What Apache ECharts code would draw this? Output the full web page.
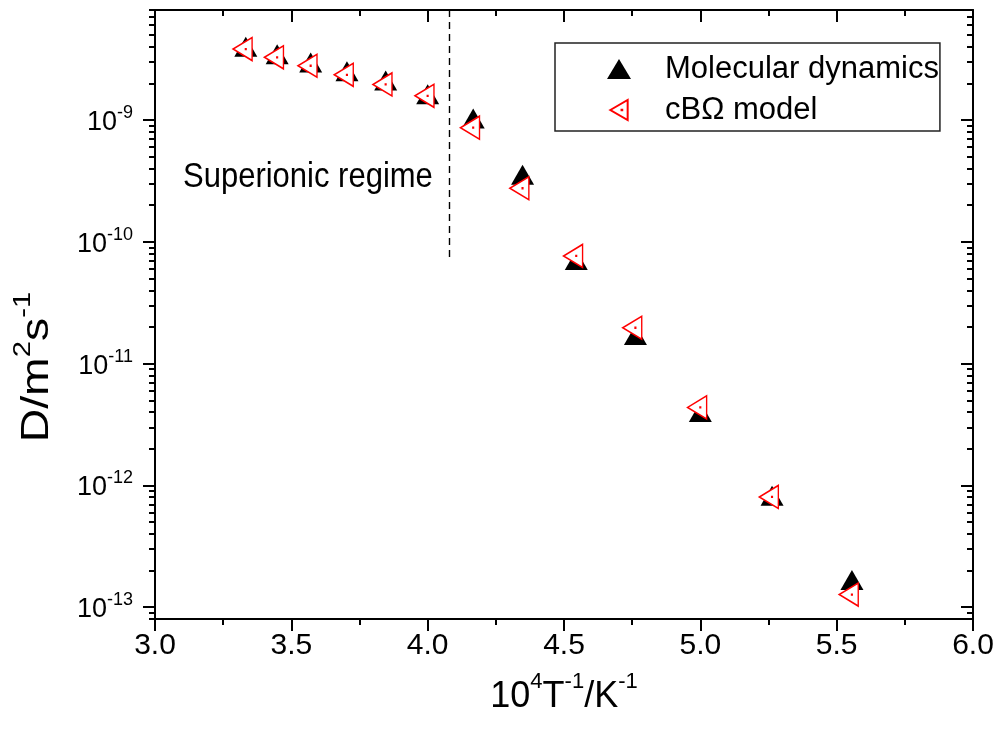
<!DOCTYPE html>
<html>
<head>
<meta charset="utf-8">
<script src="https://cdn.jsdelivr.net/npm/echarts@6/dist/echarts.min.js"></script>
<style>
  html, body { margin: 0; padding: 0; background: #fff; }
  #chart { width: 1002px; height: 737px; }
</style>
</head>
<body>
<div id="chart"></div>
<script>
// 10^4/T for T = 3000 ... 1800 K
var invT = [3.333, 3.448, 3.571, 3.704, 3.846, 4.0, 4.167, 4.348, 4.545, 4.762, 5.0, 5.263, 5.556];
// Molecular dynamics diffusion coefficients (m^2/s)
var mdD = [3.75e-9, 3.25e-9, 2.78e-9, 2.36e-9, 1.98e-9, 1.53e-9, 9.66e-10, 3.33e-10, 6.65e-11, 1.61e-11, 3.77e-12, 7.74e-13, 1.57e-13];
// cBOmega model
var modelD = [3.82e-9, 3.27e-9, 2.79e-9, 2.35e-9, 1.96e-9, 1.58e-9, 8.65e-10, 2.75e-10, 7.66e-11, 1.97e-11, 4.37e-12, 8.04e-13, 1.27e-13];
// axis ranges / ticks
var xMin = 3.0, xMax = 6.0, xStep = 0.5;
var yMin = 8e-14, yMax = 8e-9;
var yMajor = [1e-13, 1e-12, 1e-11, 1e-10, 1e-9];
// superionic boundary (dashed line)
var boundaryX = 4.08;
var boundaryY = [7e-11, 8e-9];

var FONT = '"Liberation Sans", Arial, sans-serif';

// minor ticks 2..9 x 10^n inside the range
var yMinor = [];
for (var n = -14; n <= -9; n++) {
  for (var k = 2; k <= 9; k++) {
    var v = k * Math.pow(10, n);
    if (v >= yMin * 0.999 && v <= yMax * 1.001) yMinor.push(v);
  }
}

var pairs = function (xs, ys) {
  return xs.map(function (x, i) { return [x, ys[i]]; });
};

var chart = echarts.init(document.getElementById('chart'));

var yBase = {
  type: 'log', logBase: 10, min: yMin, max: yMax,
  splitLine: { show: false }, minorTick: { show: false }
};
var lineBlack = { show: true, lineStyle: { color: '#000', width: 2 } };

var option = {
  animation: false,
  backgroundColor: '#fff',
  grid: { left: 155, right: 29, top: 10, bottom: 118, containLabel: false },
  xAxis: [
    {
      type: 'value', min: xMin, max: xMax, interval: xStep, position: 'bottom',
      axisLine: lineBlack,
      axisTick: { show: true, inside: false, length: 12, lineStyle: { color: '#000', width: 2 } },
      minorTick: { show: true, splitNumber: 2, length: 6, lineStyle: { color: '#000', width: 2 } },
      splitLine: { show: false },
      axisLabel: {
        margin: 12, color: '#000', fontFamily: FONT, fontSize: 30,
        formatter: function (v) { return v.toFixed(1); }
      },
      name: '{b|10}{s|4}{b|T}{s|-1}{b|/K}{s|-1}',
      nameLocation: 'middle', nameGap: 52,
      nameTextStyle: {
        fontFamily: FONT, fontSize: 36, color: '#000',
        rich: {
          b: { fontFamily: FONT, fontSize: 36, lineHeight: 44, color: '#000', verticalAlign: 'bottom' },
          s: { fontFamily: FONT, fontSize: 22, lineHeight: 22, color: '#000', verticalAlign: 'top' }
        }
      }
    },
    {
      type: 'value', min: xMin, max: xMax, interval: xStep, position: 'top',
      axisLine: lineBlack,
      axisTick: { show: true, inside: true, length: 12, lineStyle: { color: '#000', width: 2 } },
      minorTick: { show: true, splitNumber: 2, length: 6, lineStyle: { color: '#000', width: 2 } },
      splitLine: { show: false },
      axisLabel: { show: false }
    }
  ],
  yAxis: [
    echarts.util.merge({
      position: 'left',
      axisLine: lineBlack,
      axisTick: { show: true, inside: false, length: 12, customValues: yMajor, lineStyle: { color: '#000', width: 2 } },
      axisLabel: {
        margin: 22, customValues: yMajor,
        fontFamily: FONT, fontSize: 27, color: '#000',
        formatter: function (v) { return '{b|10}{s|' + Math.round(Math.log10(v)) + '}'; },
        rich: {
          b: { fontFamily: FONT, fontSize: 27, lineHeight: 32, color: '#000', verticalAlign: 'bottom' },
          s: { fontFamily: FONT, fontSize: 18, lineHeight: 18, color: '#000', verticalAlign: 'top' }
        }
      }
    }, yBase),
    echarts.util.merge({
      position: 'left',
      axisLine: { show: false },
      axisTick: { show: true, inside: false, length: 6, customValues: yMinor, lineStyle: { color: '#000', width: 2 } },
      axisLabel: { show: false }
    }, yBase),
    echarts.util.merge({
      position: 'right',
      axisLine: lineBlack,
      axisTick: { show: true, inside: true, length: 12, customValues: yMajor, lineStyle: { color: '#000', width: 2 } },
      axisLabel: { show: false }
    }, yBase),
    echarts.util.merge({
      position: 'right',
      axisLine: { show: false },
      axisTick: { show: true, inside: true, length: 6, customValues: yMinor, lineStyle: { color: '#000', width: 2 } },
      axisLabel: { show: false }
    }, yBase)
  ],
  legend: {
    orient: 'vertical', left: 555, top: 43,
    padding: [8, 1, 3, 52], itemGap: 5, itemWidth: 24, itemHeight: 20,
    borderColor: '#222', borderWidth: 1.5,
    selectedMode: false,
    textStyle: { fontFamily: FONT, fontSize: 31, color: '#000', lineHeight: 36, padding: [0, 0, 0, 29] },
    data: ['Molecular dynamics', 'cB\u03A9 model']
  },
  graphic: [
    {
      type: 'text', x: 183, y: 177, scaleY: 1.12,
      style: { text: 'Superionic regime', fontFamily: FONT, fontSize: 31, fill: '#000', verticalAlign: 'middle' }
    },
    {
      // y axis title, stretched along its length like the original
      type: 'text', x: 34, y: 367, rotation: Math.PI / 2, scaleX: 1.22,
      style: {
        text: '{b|D/m}{s|2}{b|s}{s|-1}', align: 'center', verticalAlign: 'middle',
        rich: {
          b: { fontFamily: FONT, fontSize: 38, lineHeight: 46, fill: '#000', verticalAlign: 'bottom' },
          s: { fontFamily: FONT, fontSize: 24, lineHeight: 24, fill: '#000', verticalAlign: 'top' }
        }
      }
    }
  ],
  series: [
    {
      name: 'Molecular dynamics', type: 'scatter',
      xAxisIndex: 0, yAxisIndex: 0,
      symbol: 'triangle', symbolSize: [23, 20], symbolOffset: [0, -3.3],
      itemStyle: { color: '#000', opacity: 1 },
      emphasis: { disabled: true },
      data: pairs(invT, mdD),
      markLine: {
        silent: true, symbol: 'none', animation: false,
        lineStyle: { color: '#000', width: 1.4, type: [7, 5] },
        label: { show: false },
        data: [[{ coord: [boundaryX, boundaryY[1]] }, { coord: [boundaryX, boundaryY[0]] }]]
      }
    },
    {
      name: 'cB\u03A9 model', type: 'scatter',
      xAxisIndex: 0, yAxisIndex: 0,
      symbol: 'path://M0,5L8.66,0L8.66,10ZM5.6,4.85L5.95,4.85L5.95,5.15L5.6,5.15Z',
      symbolSize: [19, 23], symbolOffset: [-3.2, 0],
      itemStyle: { color: '#fff', borderColor: '#ff0000', borderWidth: 1.5, opacity: 1 },
      emphasis: { disabled: true },
      data: pairs(invT, modelD)
    }
  ]
};

chart.setOption(option);
</script>
</body>
</html>
